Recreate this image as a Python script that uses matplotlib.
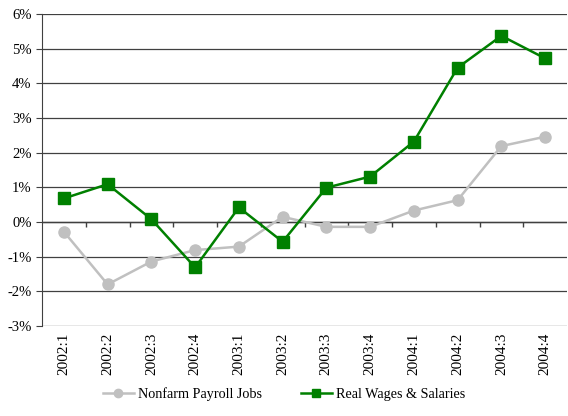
import matplotlib
matplotlib.use("Agg")
import matplotlib.pyplot as plt
from matplotlib.ticker import FuncFormatter

plt.rcParams["font.family"] = ["Liberation Serif", "DejaVu Serif"]

quarters = ["2002:1", "2002:2", "2002:3", "2002:4",
            "2003:1", "2003:2", "2003:3", "2003:4",
            "2004:1", "2004:2", "2004:3", "2004:4"]
payroll_jobs = [-0.28, -1.80, -1.14, -0.81, -0.71, 0.15, -0.14, -0.14, 0.33, 0.63, 2.19, 2.46]
real_wages = [0.68, 1.09, 0.08, -1.31, 0.42, -0.57, 0.99, 1.31, 2.32, 4.45, 5.37, 4.72]

fig = plt.figure(figsize=(5.68, 4.16), dpi=100)
ax = fig.add_axes([42 / 568, 90 / 416, 525 / 568, 312 / 416])

x = list(range(len(quarters)))
ax.plot(x, payroll_jobs, color="#c0c0c0", linewidth=1.8, marker="o",
        markersize=8, label="Nonfarm Payroll Jobs", zorder=3)
ax.plot(x, real_wages, color="#008000", linewidth=1.8, marker="s",
        markersize=8.5, label="Real Wages & Salaries", zorder=4)

ax.set_ylim(-3, 6)
ax.set_xlim(-0.5, len(quarters) - 0.5)
ax.set_yticks(range(-3, 7))
ax.yaxis.set_major_formatter(FuncFormatter(lambda v, p: f"{int(v)}%"))
ax.grid(axis="y", color="#404040", linewidth=0.9)
ax.set_axisbelow(True)

# zero line with category separators, Excel style
ax.axhline(0, color="#404040", linewidth=1.0, zorder=2)
ax.vlines([k + 0.5 for k in x[:-1]], -0.15, 0, color="#404040", linewidth=1.0, zorder=2)

ax.set_xticks(x)
ax.set_xticklabels(quarters, rotation=90, fontsize=11)
ax.tick_params(axis="x", length=0, pad=5)
ax.tick_params(axis="y", direction="out", length=4, labelsize=10.5, color="#404040")

for side in ["top", "right", "bottom"]:
    ax.spines[side].set_visible(False)
ax.spines["left"].set_color("#404040")

fig.legend(loc="lower center", ncol=2, frameon=False, fontsize=10.2,
           bbox_to_anchor=(0.5, 0.005), handlelength=2.2, handletextpad=0.3,
           columnspacing=2.7, markerscale=0.75)

fig.savefig("out.png", dpi=100)
